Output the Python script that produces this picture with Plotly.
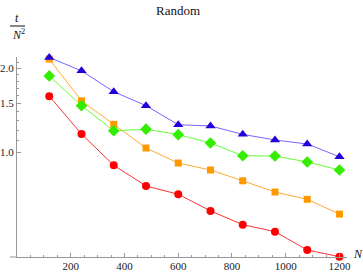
import plotly.graph_objects as go

N = [120, 240, 360, 480, 600, 720, 840, 960, 1080, 1200]
blue = [2.19, 1.96, 1.65, 1.47, 1.256, 1.243, 1.16, 1.107, 1.071, 0.964]
green = [1.88, 1.47, 1.195, 1.21, 1.157, 1.08, 0.972, 0.97, 0.923, 0.864]
orange = [2.16, 1.53, 1.26, 1.036, 0.915, 0.864, 0.79, 0.72, 0.678, 0.60]
red = [1.59, 1.163, 0.898, 0.757, 0.707, 0.616, 0.55, 0.519, 0.446, 0.422]

x_ticks = [200, 400, 600, 800, 1000, 1200]
x_minor = [v for v in range(50, 1250, 50) if v % 200 != 0]
y_ticks = [1.0, 1.5, 2.0]
y_tick_text = ["1.0", "1.5", "2.0"]
y_minor = [1.1, 1.2, 1.3, 1.4, 1.6, 1.7, 1.8, 1.9, 2.1]

series = [
    ("red", red, "circle", "#FF0000", "#FF3333", 8),
    ("orange", orange, "square", "#FF9900", "#FFAA33", 7),
    ("green", green, "diamond", "#33EE00", "#66FF33", 9),
    ("blue", blue, "triangle-up", "#2200DD", "#7766FF", 9),
]

fig = go.Figure()
for name, ys, sym, mc, lc, sz in series:
    fig.add_trace(go.Scatter(
        x=N, y=ys, mode="lines+markers", name=name,
        line=dict(color=lc, width=1),
        marker=dict(symbol=sym, color=mc, size=sz, line=dict(width=0)),
        cliponaxis=False, showlegend=False,
    ))

font = "Liberation Serif"
tickfont = dict(family=font, size=11, color="#222")
fig.update_layout(
    width=363, height=273,
    margin=dict(l=17, r=16, t=57, b=16, autoexpand=False),
    plot_bgcolor="white", paper_bgcolor="white",
    font=dict(family=font, size=11, color="#222"),
    title=dict(text="Random", x=178 / 363, xref="container", y=1 - 10 / 273,
               yref="container", xanchor="center", yanchor="middle",
               font=dict(family=font, size=13, color="#111")),
    xaxis=dict(range=[0, 1228], showgrid=False, zeroline=False, showline=True,
               automargin=False, tickfont=tickfont, ticklabelstandoff=-1,
               linecolor="#999", linewidth=1, ticks="inside", ticklen=4,
               tickcolor="#999", tickvals=x_ticks,
               minor=dict(tickvals=x_minor, ticks="inside", ticklen=2, tickcolor="#999")),
    yaxis=dict(type="log", range=[-0.3758, 0.342], showgrid=False, zeroline=False,
               automargin=False, tickfont=tickfont,
               showline=True, linecolor="#999", linewidth=1, ticks="inside",
               ticklen=4, tickcolor="#999", tickvals=y_ticks, ticktext=y_tick_text,
               minor=dict(tickvals=y_minor, ticks="inside", ticklen=2, tickcolor="#999")),
    annotations=[
        dict(text="<i>t</i>", xref="paper", yref="paper", x=(17 - 17) / 330,
             y=(257 - 18) / 200, showarrow=False, xanchor="center", yanchor="middle",
             font=dict(family=font, size=12, color="#111")),
        dict(text="<i>N</i><sup>2</sup>", xref="paper", yref="paper", x=(18 - 17) / 330,
             y=(257 - 34) / 200, showarrow=False, xanchor="center", yanchor="middle",
             font=dict(family=font, size=12, color="#111")),
        dict(text="<i>N</i>", xref="paper", yref="paper", x=(351 - 17) / 330,
             y=(257 - 254) / 200, showarrow=False, xanchor="left", yanchor="middle",
             font=dict(family=font, size=12, color="#111")),
    ],
    shapes=[
        dict(type="line", xref="paper", yref="paper", x0=(10 - 17) / 330,
             x1=(25 - 17) / 330, y0=(257 - 26) / 200, y1=(257 - 26) / 200,
             line=dict(color="#111", width=1)),
        dict(type="line", xref="paper", yref="paper", x0=(10 - 17) / 330,
             x1=0, y0=0, y1=0, line=dict(color="#999", width=1)),
    ],
)

fig.write_html("out.html", config={"displayModeBar": False},
               post_script="document.body.style.margin='0';document.body.style.padding='0';")
